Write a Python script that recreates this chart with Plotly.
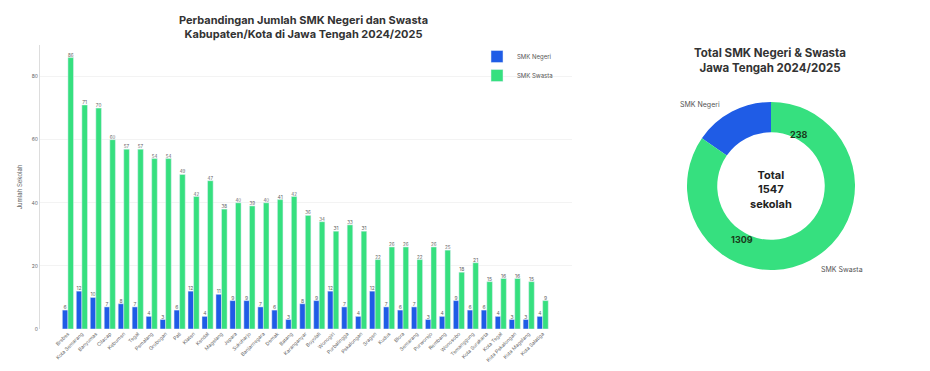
import plotly.graph_objects as go

regions = ["Brebes", "Kota Semarang", "Banyumas", "Cilacap", "Kebumen", "Tegal", "Pemalang",
           "Grobogan", "Pati", "Klaten", "Kendal", "Magelang", "Jepara", "Sukoharjo",
           "Banjarnegara", "Demak", "Batang", "Karanganyar", "Boyolali", "Wonogiri",
           "Purbalingga", "Pekalongan", "Sragen", "Kudus", "Blora", "Semarang", "Purworejo",
           "Rembang", "Wonosobo", "Temanggung", "Kota Surakarta", "Kota Tegal",
           "Kota Pekalongan", "Kota Magelang", "Kota Salatiga"]
negeri = [6, 12, 10, 7, 8, 7, 4, 3, 6, 12, 4, 11, 9, 9, 7, 6, 3, 8, 9, 12, 7, 4, 12, 7, 6, 7,
          3, 4, 9, 6, 6, 4, 3, 3, 4]
swasta = [86, 71, 70, 60, 57, 57, 54, 54, 49, 42, 47, 38, 40, 39, 40, 41, 42, 36, 34, 31, 33,
          31, 22, 26, 26, 22, 26, 25, 18, 21, 15, 16, 16, 15, 9]
donut_labels = ["SMK Negeri", "SMK Swasta"]
donut_values = [sum(negeri), sum(swasta)]

BLUE = "#1f5ce6"
GREEN = "#36e07f"
FONT = "Inter"
W, H = 930, 371

def px(x):
    return x / W

def py(y):
    return 1 - y / H

# first slice (Negeri) should end at 12 o'clock going clockwise
start_rot = -360.0 * donut_values[0] / sum(donut_values)

fig = go.Figure()
fig.add_trace(go.Bar(x=regions, y=negeri, name="SMK Negeri", marker_color=BLUE,
                     text=negeri, textposition="outside", cliponaxis=False,
                     textfont=dict(size=5, color="#666")))
fig.add_trace(go.Bar(x=regions, y=swasta, name="SMK Swasta", marker_color=GREEN,
                     text=swasta, textposition="outside", cliponaxis=False,
                     textfont=dict(size=5, color="#666")))
fig.add_trace(go.Pie(labels=donut_labels, values=donut_values, hole=0.64, sort=False,
                     direction="clockwise", rotation=start_rot,
                     marker=dict(colors=[BLUE, GREEN], line=dict(color="white", width=0)),
                     textinfo="none", showlegend=False, hoverinfo="label+value",
                     domain=dict(x=[px(687), px(855)], y=[py(270), py(102)])))

fig.update_layout(
    width=W, height=H,
    margin=dict(l=0, r=0, t=0, b=0),
    paper_bgcolor="white", plot_bgcolor="white",
    font=dict(family=FONT, color="#444"),
    barmode="group", bargap=0.2, bargroupgap=0,
    xaxis=dict(domain=[px(40), px(572)], range=[-2, 36.1], tickangle=-45,
               tickfont=dict(size=5, color="#666"), showgrid=False, showline=False,
               ticks="", automargin=False),
    yaxis=dict(domain=[py(329), py(45)], range=[0, 90], tickvals=[0, 20, 40, 60, 80],
               tickfont=dict(size=5, color="#666"), showgrid=True, gridcolor="#f3f3f3",
               showline=True, linecolor="#dddddd", linewidth=1, zeroline=False,
               ticks="", automargin=False,
               title=dict(text="Jumlah Sekolah", font=dict(size=6, color="#666"), standoff=8)),
    legend=dict(x=px(477), y=py(42), xanchor="left", yanchor="top",
                font=dict(size=6, color="#555"), bgcolor="rgba(255,255,255,0)",
                itemwidth=30, tracegroupgap=0),
    showlegend=True,
)

annotations = [
    dict(x=px(303), y=py(27), text="<b>Perbandingan Jumlah SMK Negeri dan Swasta<br>Kabupaten/Kota di Jawa Tengah 2024/2025</b>",
         font=dict(size=11, color="#333"), showarrow=False),
    dict(x=px(770), y=py(61), text="<b>Total SMK Negeri & Swasta<br>Jawa Tengah 2024/2025</b>",
         font=dict(size=11.5, color="#333"), showarrow=False),
    dict(x=px(771), y=py(189), text="<b>Total<br>%d<br>sekolah</b>" % sum(donut_values),
         font=dict(size=11, color="#222"), showarrow=False),
    dict(x=px(798), y=py(134), text="<b>%d</b>" % donut_values[0],
         font=dict(size=9, color="#1a3a1a"), showarrow=False),
    dict(x=px(742), y=py(239), text="<b>%d</b>" % donut_values[1],
         font=dict(size=9, color="#1a3a1a"), showarrow=False),
    dict(x=px(700), y=py(104), text=donut_labels[0],
         font=dict(size=7, color="#555"), showarrow=False),
    dict(x=px(842), y=py(269), text=donut_labels[1],
         font=dict(size=7, color="#555"), showarrow=False),
]
for a in annotations:
    a.update(xref="paper", yref="paper", xanchor="center", yanchor="middle")
fig.update_layout(annotations=annotations)

fig.write_html("out.html", config={"displayModeBar": False},
               post_script="document.body.style.margin='0';document.body.style.padding='0';")
